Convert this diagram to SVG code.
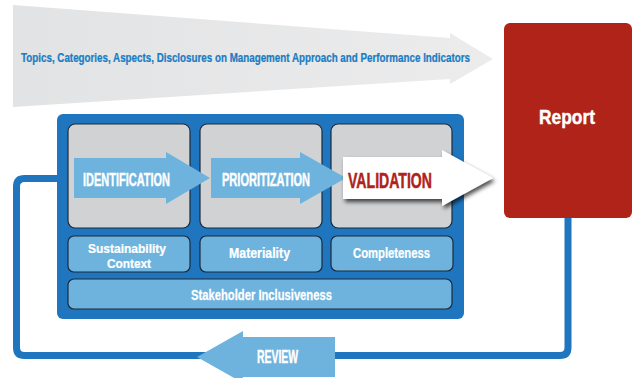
<svg xmlns="http://www.w3.org/2000/svg" width="633" height="378" viewBox="0 0 633 378">
<defs>
<linearGradient id="gTop" x1="0" y1="0" x2="1" y2="0">
<stop offset="0" stop-color="#e2e3e4"/>
<stop offset="1" stop-color="#ececed"/>
</linearGradient>
<filter id="shadow" x="-20%" y="-30%" width="150%" height="170%">
<feGaussianBlur in="SourceAlpha" stdDeviation="2.2"/>
<feOffset dx="2" dy="3" result="b"/>
<feComponentTransfer><feFuncA type="linear" slope="0.7"/></feComponentTransfer>
<feMerge><feMergeNode/><feMergeNode in="SourceGraphic"/></feMerge>
</filter>
<style>
text{font-family:"Liberation Sans",Arial,sans-serif;font-weight:bold;text-anchor:middle}
.w{fill:#ffffff;stroke:#ffffff;stroke-width:0.45}
.ws{fill:#ffffff;stroke:#ffffff;stroke-width:0.25}
.blue{fill:#1f75be}
.lb{fill:#6db3de}
.gray{fill:#d1d2d4;stroke:#1d2b3a;stroke-width:1.2}
.sub{fill:#6db3de;stroke:#1d2b3a;stroke-width:1.2}
.conn{fill:none;stroke:#1f75be;stroke-width:7}
</style>
</defs>

<g id="scope-arrow">
<polygon points="13,5 450,38 450,33 493,59 450,84 450,79 13,107" fill="url(#gTop)"/>
<text transform="translate(245.5,61.5) scale(0.752,1)" x="0" y="0" font-size="13" fill="#1a7cc3" stroke="#1a7cc3" stroke-width="0.25" textLength="597" lengthAdjust="spacingAndGlyphs">Topics, Categories, Aspects, Disclosures on Management Approach and Performance Indicators</text>
</g>

<g id="report">
<rect x="504" y="23" width="128" height="195" rx="6" fill="#b02318"/>
<text transform="translate(567,124) scale(0.83,1)" x="0" y="0" font-size="21" class="w" textLength="67.5" lengthAdjust="spacingAndGlyphs">Report</text>
</g>

<g id="connectors">
<path class="conn" d="M568,218 V347.5 Q568,355.5 560,355.5 H24.5 Q16.5,355.5 16.5,347.5 V186.5 Q16.5,178.5 24.5,178.5 H58"/>
</g>

<g id="process-box">
<rect x="57" y="114" width="407" height="205" rx="6" class="blue"/>
</g>

<g id="box-identification">
<rect x="68" y="124" width="122" height="104" rx="7" class="gray"/>
</g>
<g id="box-prioritization">
<rect x="200" y="124" width="122" height="104" rx="7" class="gray"/>
</g>
<g id="box-validation">
<rect x="331" y="124" width="121" height="104" rx="7" class="gray"/>
</g>

<g id="identification">
<polygon points="74,158 166,158 166,152 210,178 166,204 166,198 74,198" class="lb"/>
<text transform="translate(126.5,185.5) scale(0.604,1)" x="0" y="0" font-size="18" class="w" textLength="144" lengthAdjust="spacingAndGlyphs">IDENTIFICATION</text>
</g>

<g id="prioritization">
<polygon points="211,158 300,158 300,152 346,178 300,204 300,198 211,198" class="lb"/>
<text transform="translate(266,185.5) scale(0.607,1)" x="0" y="0" font-size="18" class="w" textLength="145" lengthAdjust="spacingAndGlyphs">PRIORITIZATION</text>
</g>

<g id="validation">
<polygon points="343,157 442,157 442,150 493,178 442,206 442,199 343,199" fill="#ffffff" filter="url(#shadow)"/>
<text transform="translate(390,188) scale(0.625,1)" x="0" y="0" font-size="22" fill="#b02318" stroke="#b02318" stroke-width="0.5" textLength="134.4" lengthAdjust="spacingAndGlyphs">VALIDATION</text>
</g>

<g id="sustainability-context">
<rect x="68" y="236" width="122" height="36" rx="6" class="sub"/>
<text transform="translate(127,252.5) scale(0.895,1)" x="0" y="0" font-size="13.4" class="ws" textLength="87.1" lengthAdjust="spacingAndGlyphs">Sustainability</text>
<text transform="translate(129,267.5) scale(0.88,1)" x="0" y="0" font-size="13.4" class="ws" textLength="50" lengthAdjust="spacingAndGlyphs">Context</text>
</g>

<g id="materiality">
<rect x="200" y="236" width="122" height="36" rx="6" class="sub"/>
<text transform="translate(259.5,258) scale(0.88,1)" x="0" y="0" font-size="14" class="ws" textLength="69.3" lengthAdjust="spacingAndGlyphs">Materiality</text>
</g>

<g id="completeness">
<rect x="331" y="236" width="122" height="35" rx="6" class="sub"/>
<text transform="translate(391.5,258) scale(0.805,1)" x="0" y="0" font-size="14" class="ws" textLength="95.7" lengthAdjust="spacingAndGlyphs">Completeness</text>
</g>

<g id="stakeholder-inclusiveness">
<rect x="68" y="279" width="384" height="30" rx="6" class="sub"/>
<text transform="translate(261.5,300) scale(0.80,1)" x="0" y="0" font-size="14" class="ws" textLength="176" lengthAdjust="spacingAndGlyphs">Stakeholder Inclusiveness</text>
</g>

<g id="review">
<polygon points="197,357 243,331 243,337 335,337 335,377 243,377 243,383" class="lb"/>
<text transform="translate(277.5,363) scale(0.594,1)" x="0" y="0" font-size="17.5" class="w" textLength="69" lengthAdjust="spacingAndGlyphs">REVIEW</text>
</g>
</svg>
